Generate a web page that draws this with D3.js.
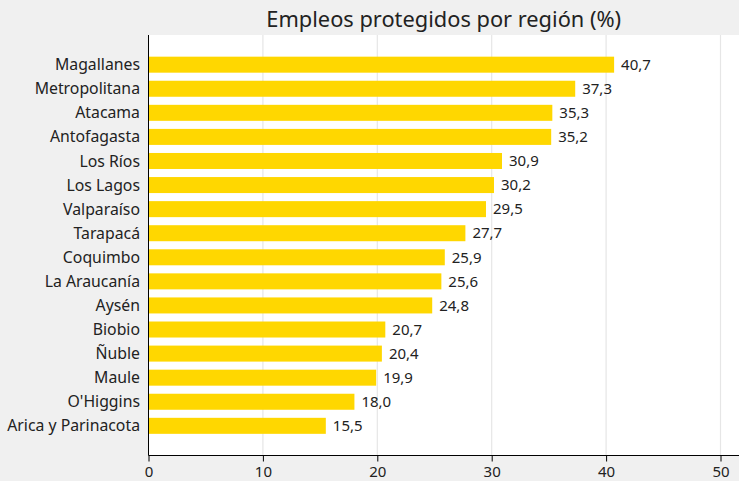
<!DOCTYPE html>
<html><head><meta charset="utf-8">
<script src="https://cdn.jsdelivr.net/npm/d3@7"></script>
<style>
html,body{margin:0;padding:0;background:#f0f0f0;}
svg{display:block;font-family:"Noto Sans","Open Sans",sans-serif;}
</style></head>
<body>
<svg id="c" width="739" height="481"></svg>
<script>
const categories = ["Magallanes","Metropolitana","Atacama","Antofagasta","Los Ríos","Los Lagos","Valparaíso","Tarapacá","Coquimbo","La Araucanía","Aysén","Biobio","Ñuble","Maule","O'Higgins","Arica y Parinacota"];
const values = [40.7,37.3,35.3,35.2,30.9,30.2,29.5,27.7,25.9,25.6,24.8,20.7,20.4,19.9,18.0,15.5];
const xTicks = [0,10,20,30,40,50];
const title = "Empleos protegidos por región (%)";

const svg = d3.select("#c");
const W = 739, H = 481;
const m = {left:148.5, right:0, top:35, bottom:25};
const plotBottom = H - m.bottom - 0.5;
svg.append("rect").attr("width",W).attr("height",H).attr("fill","#f0f0f0");
svg.append("rect").attr("x",m.left).attr("y",m.top).attr("width",W-m.left).attr("height",plotBottom-m.top).attr("fill","#fff");

const x = d3.scaleLinear().domain([0,50]).range([m.left, 720.5]);
const y = d3.scaleBand().domain(categories).range([m.top, plotBottom]).paddingInner(0.335).paddingOuter(0.9);

svg.append("g").selectAll("line").data(xTicks.filter(d=>d>0)).join("line")
  .attr("x1",d=>x(d)).attr("x2",d=>x(d)).attr("y1",m.top).attr("y2",plotBottom)
  .attr("stroke","#e6e6e6").attr("stroke-width",1.2);

svg.append("g").selectAll("rect").data(values).join("rect")
  .attr("x",x(0)).attr("y",(d,i)=>y(categories[i]))
  .attr("width",d=>x(d)-x(0)).attr("height",y.bandwidth())
  .attr("fill","#FFD700");

const fmt = d=>d.toFixed(1).replace(".",",");
svg.append("g").selectAll("text").data(values).join("text")
  .attr("x",d=>x(d)+7).attr("y",(d,i)=>y(categories[i])+y.bandwidth()/2)
  .attr("dy","0.35em").attr("font-size",15).attr("fill","#222").text(fmt);

svg.append("g").selectAll("text").data(categories).join("text")
  .attr("x",m.left-8.5).attr("y",d=>y(d)+y.bandwidth()/2).attr("dy","0.35em")
  .attr("text-anchor","end").attr("font-size",15.8).attr("fill","#222").text(d=>d);

svg.append("line").attr("x1",m.left).attr("x2",m.left).attr("y1",m.top).attr("y2",plotBottom)
  .attr("stroke","#000").attr("stroke-width",1);

const ax = svg.append("g").attr("transform",`translate(0,${plotBottom})`)
  .call(d3.axisBottom(x).tickValues(xTicks).tickSize(6).tickSizeOuter(0).tickFormat(d=>d));
ax.select(".domain").attr("stroke","#000").attr("d",`M${m.left},0H${W}`);
ax.selectAll(".tick line").attr("stroke","#000");
ax.selectAll(".tick text").attr("font-size",15).attr("fill","#222").attr("font-family","Noto Sans, Open Sans, sans-serif").attr("dy","0.85em");

svg.append("text").attr("x",(m.left+W)/2).attr("y",27).attr("text-anchor","middle")
  .attr("font-size",21.8).attr("fill","#222").text(title);
</script>
</body></html>
